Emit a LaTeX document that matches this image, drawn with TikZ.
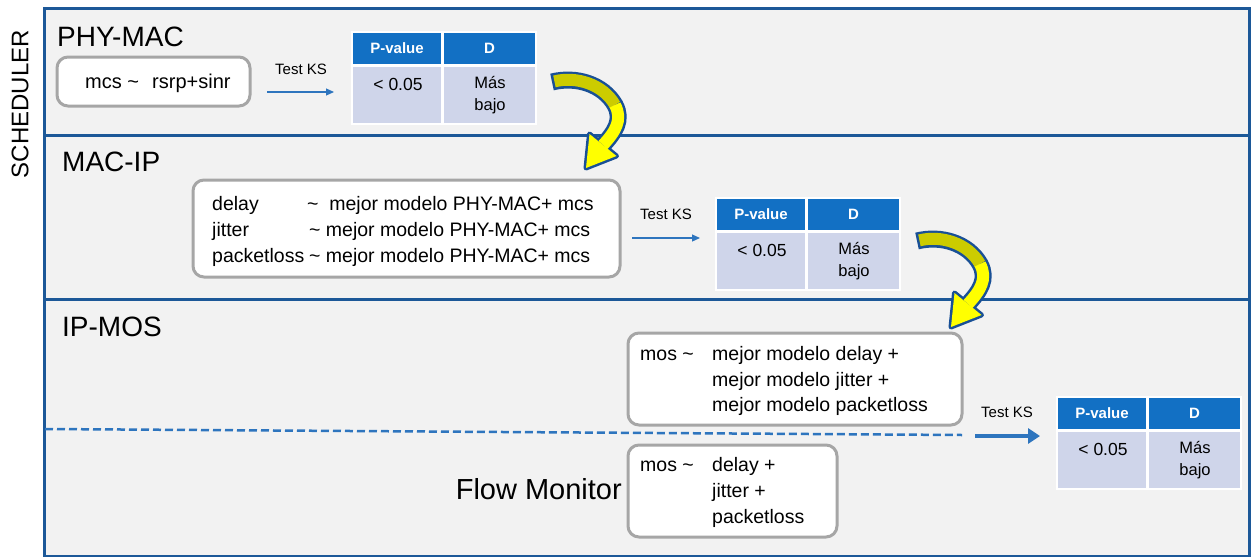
\documentclass[tikz,border=0pt]{standalone}
\usepackage{fontspec}
\setmainfont{Liberation Sans}
\usetikzlibrary{arrows.meta}

\definecolor{panelblue}{RGB}{28,88,152}
\definecolor{panelfill}{RGB}{242,242,242}
\definecolor{hdrblue}{RGB}{18,112,196}
\definecolor{cellblue}{RGB}{207,213,234}
\definecolor{linkblue}{RGB}{46,117,190}
\definecolor{boxgray}{RGB}{166,166,166}
\definecolor{darkyellow}{RGB}{204,204,0}
\definecolor{brightyellow}{RGB}{255,255,0}
\definecolor{arrowedge}{RGB}{25,80,150}

\newcommand\fs[1]{\fontsize{#1}{#1}\selectfont}

% two-column result table: #1 name prefix, #2 left x, #3 top y
\newcommand\kstable[3]{%
  \fill[white] (#2-2,#3-2) rectangle (#2+184,#3+92);
  \node[hdrcell, minimum width=88] (#1pv) at (#2+44,#3+15.5) {P-value};
  \node[hdrcell, minimum width=91] (#1d) at (#2+136.5,#3+15.5) {D};
  \node[bodycell, minimum width=88] (#1pvv) at (#2+44,#3+62) {};
  \node[bodycell, minimum width=91] (#1dv) at (#2+136.5,#3+62) {};
  \node[celltext] (#1pvt) at (#2+45,#3+51) {< 0.05};
  \node[celltext, font=\fs{16.5}, align=center] (#1dvt) at (#2+137,#3+62) {Más\\[5pt]bajo};
}

% curved yellow arrow, tail centre at (#1,#2)
\newcommand\yarrow[2]{%
  \begin{scope}[shift={(#1,#2)}]
    \draw[draw=arrowedge, line width=17]
      (0,0) .. controls (24,-6) and (51,2) .. (63,23)
            .. controls (71,38) and (63,50) .. (51,63);
    \draw[draw=arrowedge, line width=5, line join=round]
      (64.5,74) -- (34,86) -- (37.5,52) -- cycle;
    \draw[draw=darkyellow, line width=12, shorten <=2.5]
      (0,0) .. controls (24,-6) and (51,2) .. (63,23);
    \draw[draw=brightyellow, line width=12]
      (63,23) .. controls (71,38) and (63,50) .. (51,63);
    \fill[brightyellow] (64.5,74) -- (34,86) -- (37.5,52) -- cycle;
  \end{scope}}

\tikzset{
  panel/.style={fill=panelfill, draw=panelblue, line width=3},
  heading/.style={font=\fs{28}, anchor=west, inner sep=0},
  modelbox/.style={draw=boxgray, fill=white, line width=3, rounded corners=11, inner sep=0},
  txt/.style={font=\fs{19.5}, anchor=west, inner sep=0, text height=14, text depth=4},
  hdrcell/.style={fill=hdrblue, text=white, font=\bfseries\fs{15}, minimum height=31, inner sep=0},
  bodycell/.style={fill=cellblue, minimum height=56, inner sep=0},
  celltext/.style={font=\fs{17.5}, inner sep=0},
  kslabel/.style={font=\fs{15}, inner sep=0},
  thinlink/.style={draw=linkblue, line width=1.2, -{Triangle[length=8,width=7]}},
  thicklink/.style={draw=linkblue, line width=4.5, -{Triangle[length=12,width=15]}},
}

\begin{document}
\begin{tikzpicture}[x=1pt, y=-1pt]
  \useasboundingbox (0,0) rectangle (1251,557);

  % layer panels
  \draw[panel] (44,8) rectangle (1249,135);
  \draw[panel] (44,135) rectangle (1249,299);
  \draw[panel] (44,299) rectangle (1249,556);

  \node[rotate=90, font=\fs{24}, inner sep=0] (sched) at (20,104) {SCHEDULER};

  % PHY-MAC
  \node[heading] (phymac) at (57,37) {PHY-MAC};
  \node[modelbox, minimum width=193, minimum height=49] (box1) at (153.5,81.5) {};
  \node[txt, font=\fs{20}] (box1a) at (85,83) {mcs \textasciitilde};
  \node[txt, font=\fs{20}] (box1b) at (152,83) {rsrp+sinr};
  \node[kslabel] (ks1) at (301,69) {Test KS};
  \coordinate (a1s) at (267,92);
  \coordinate (a1e) at (334,92);
  \draw[thinlink] (a1s) -- (a1e);
  \kstable{t1}{353}{33}

  % MAC-IP
  \node[heading] (macip) at (62,162) {MAC-IP};
  \node[modelbox, minimum width=427, minimum height=97] (box2) at (406.5,228.5) {};
  \node[txt] (b2a) at (212,205) {delay};
  \node[txt] (b2b) at (212,231) {jitter};
  \node[txt] (b2c) at (212,257) {packetloss};
  \node[txt] (b2d) at (307,205) {\textasciitilde\ \ mejor modelo PHY-MAC+ mcs};
  \node[txt] (b2e) at (309,231) {\textasciitilde\ mejor modelo PHY-MAC+ mcs};
  \node[txt] (b2f) at (309,257) {\textasciitilde\ mejor modelo PHY-MAC+ mcs};
  \node[kslabel] (ks2) at (666,214) {Test KS};
  \coordinate (a2s) at (632,238);
  \coordinate (a2e) at (700,238);
  \draw[thinlink] (a2s) -- (a2e);
  \kstable{t2}{717}{199}

  % IP-MOS
  \node[heading] (ipmos) at (62,327) {IP-MOS};
  \node[modelbox, minimum width=334, minimum height=92] (box3) at (795,379) {};
  \node[txt] (b3a) at (640,355) {mos \textasciitilde};
  \node[txt] (b3b) at (712,355) {mejor modelo delay +};
  \node[txt] (b3c) at (712,381) {mejor modelo jitter +};
  \node[txt] (b3d) at (712,406) {mejor modelo packetloss};

  \coordinate (dl) at (45,429);
  \coordinate (dr) at (962,435);
  \draw[draw=linkblue, line width=2.5, dash pattern=on 8 off 4] (dl) -- (dr);

  \node[modelbox, minimum width=209, minimum height=92] (box4) at (732.5,491) {};
  \node[txt] (b4a) at (640,466) {mos \textasciitilde};
  \node[txt] (b4b) at (712,466) {delay +};
  \node[txt] (b4c) at (712,492) {jitter +};
  \node[txt] (b4d) at (712,518) {packetloss};
  \node[font=\fs{29}, anchor=east, inner sep=0] (flow) at (622,489) {Flow Monitor};

  \node[kslabel] (ks3) at (1007,412) {Test KS};
  \coordinate (a3s) at (975,436);
  \coordinate (a3e) at (1040,436);
  \draw[thicklink] (a3s) -- (a3e);
  \kstable{t3}{1058}{398}

  % transitions between layers
  \yarrow{552}{82}
  \yarrow{917}{241}
\end{tikzpicture}
\end{document}
